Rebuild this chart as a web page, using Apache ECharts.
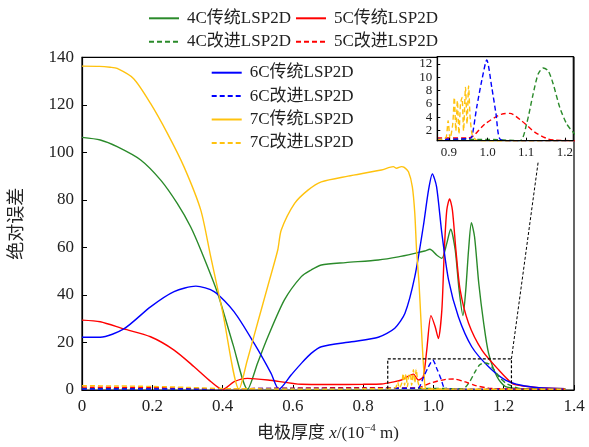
<!DOCTYPE html>
<html>
<head>
<meta charset="utf-8">
<script src="https://cdn.jsdelivr.net/npm/echarts@6/dist/echarts.min.js"></script>
<style>
  html, body { margin: 0; padding: 0; background: #fff; }
  #chart { width: 589px; height: 447px; }
</style>
</head>
<body>
<div id="chart"></div>
<script>
// 传统 LSP2D
const c4x = [0, 0.052, 0.1, 0.167, 0.224, 0.271, 0.309, 0.338, 0.386, 0.43, 0.471, 0.5, 0.529, 0.576, 0.624, 0.652, 0.681, 0.75, 0.843, 0.9, 0.947, 0.975, 0.99, 1.009, 1.024, 1.038, 1.049, 1.062, 1.073, 1.084, 1.092, 1.1, 1.108, 1.117, 1.129, 1.143, 1.157, 1.181, 1.205, 1.25, 1.3, 1.375]
const c4y = [106.3, 105.2, 102.4, 96.8, 88.3, 78.5, 68.7, 58.9, 40.7, 19, 0.3, 11.5, 22.4, 37.9, 47.7, 50.5, 52.6, 53.6, 54.7, 56, 57.5, 58.5, 59.2, 56.8, 55.4, 61.7, 67.7, 58.9, 42.1, 31.3, 42.1, 58.9, 70.4, 64.5, 44.9, 28.1, 15.4, 5.6, 1.4, 0.6, 0.4, 0.3]

const c5x = [0, 0.052, 0.119, 0.195, 0.262, 0.319, 0.367, 0.4, 0.433, 0.471, 0.529, 0.624, 0.7, 0.8, 0.852, 0.89, 0.909, 0.925, 0.943, 0.957, 0.971, 0.981, 0.993, 1.005, 1.014, 1.024, 1.031, 1.038, 1.046, 1.054, 1.064, 1.076, 1.1, 1.138, 1.186, 1.224, 1.25, 1.3, 1.375]
const c5y = [29.4, 28.7, 25.7, 22.4, 16.8, 9.8, 3.5, 0.2, 3.5, 4.9, 4.2, 2.4, 2.3, 2.4, 2.5, 3.5, 4.2, 5.5, 6.7, 4.2, 5.6, 16.8, 31.3, 26.6, 21.7, 33.7, 58.9, 75.7, 80.4, 75.7, 58.9, 42.1, 28.1, 16.8, 8.4, 2.8, 1.8, 1.0, 0.5]

const c6x = [0, 0.052, 0.119, 0.195, 0.262, 0.324, 0.376, 0.433, 0.49, 0.538, 0.56, 0.595, 0.624, 0.652, 0.681, 0.767, 0.843, 0.89, 0.919, 0.947, 0.971, 0.986, 0.997, 1.009, 1.024, 1.043, 1.071, 1.109, 1.157, 1.205, 1.25, 1.3, 1.375]
const c6y = [22.2, 22.2, 25.7, 35, 41.4, 43.7, 41.4, 32.9, 19.6, 7, 0.3, 6.3, 11.2, 15.4, 18.2, 20.3, 22.2, 26, 32.3, 47.7, 68.7, 84.1, 90.9, 85.5, 65.9, 46.3, 30.8, 18.2, 9.8, 4.2, 2.0, 1.0, 0.5]

const c7x = [0, 0.05, 0.08, 0.1, 0.147, 0.195, 0.243, 0.29, 0.338, 0.365, 0.4, 0.447, 0.47, 0.5, 0.53, 0.557, 0.567, 0.605, 0.643, 0.681, 0.757, 0.852, 0.886, 0.895, 0.909, 0.917, 0.929, 0.94, 0.947, 0.952, 0.959, 0.964, 0.969, 0.974, 0.978, 1.0, 1.1, 1.2, 1.375]
const c7y = [136.3, 136.2, 135.8, 135.3, 131, 120.6, 108, 94, 75.7, 57, 33, 0.3, 12.3, 28.4, 44.4, 58.9, 67.3, 78.5, 84.1, 87.6, 90, 92.6, 94, 93.3, 94, 93.7, 91.8, 85.5, 74.3, 58.9, 44.9, 30.8, 16.8, 5.6, 0.7, 0.4, 0.3, 0.3, 0.3]

// 改进 LSP2D
const i4x = [0, 0.4, 0.8, 0.9, 1.0, 1.084, 1.101, 1.118, 1.131, 1.144, 1.157, 1.17, 1.187, 1.205, 1.222, 1.24, 1.27, 1.375]
const i4y = [0.6, 0.4, 0.5, 0.7, 0.7, 0.5, 3, 7.5, 10.5, 11.4, 11, 9, 5.5, 3, 1.75, 0.8, 0.4, 0.3]

const i5x = [0, 0.2, 0.4, 0.6, 0.8, 0.9, 0.95, 0.963, 0.993, 1.037, 1.058, 1.088, 1.123, 1.157, 1.174, 1.25, 1.375]
const i5y = [1.2, 1.0, 0.5, 0.8, 1.0, 0.9, 0.9, 1.2, 3.0, 4.5, 4.6, 3.5, 1.75, 0.75, 0.6, 0.4, 0.3]

const i6x = [0, 0.3, 0.6, 0.85, 0.95, 0.959, 0.972, 0.985, 0.998, 1.011, 1.022, 1.032, 1.06, 1.2, 1.375]
const i6y = [0.4, 0.4, 0.7, 0.7, 0.8, 1, 5.5, 9.5, 12.6, 8.5, 4.5, 0.75, 0.4, 0.3, 0.3]

const i7x = [0, 0.1, 0.2, 0.3, 0.4, 0.5, 0.6, 0.7, 0.8, 0.87, 0.885, 0.893, 0.898, 0.903, 0.91, 0.914, 0.918, 0.922, 0.926, 0.93, 0.934, 0.938, 0.943, 0.947, 0.951, 0.955, 0.96, 0.967, 0.975, 1.05, 1.2, 1.375]
const i7y = [1.8, 1.7, 1.5, 1.1, 0.6, 0.5, 0.4, 0.4, 0.5, 0.6, 0.8, 1.0, 3.5, 0.8, 3, 7, 2, 6.5, 1.5, 6, 7, 2, 8.5, 3, 8.7, 4, 1.5, 0.8, 0.5, 0.4, 0.3, 0.3]

const xTicks = [0, 0.2, 0.4, 0.6, 0.8, 1.0, 1.2, 1.4]
const yTicks = [0, 20, 40, 60, 80, 100, 120, 140]
const insetXTicks = [0.9, 1.0, 1.1, 1.2]
const insetYTicks = [2, 4, 6, 8, 10, 12]
const insetX = [0.87, 1.222]
const insetY = [0.5, 13.1]
const connectorEnd = [1.298, 95.9]

const GREEN = '#2a8a2a', RED = '#ff0000', BLUE = '#0000ff', GOLD = '#ffc20e'
const FONT = '"Liberation Serif", "Noto Sans CJK SC", serif'

const zip = (xs, ys) => xs.map((x, i) => [x, ys[i]])

const lines = [
  { name: '4C传统LSP2D', xs: c4x, ys: c4y, color: GREEN, dash: false },
  { name: '5C传统LSP2D', xs: c5x, ys: c5y, color: RED, dash: false },
  { name: '6C传统LSP2D', xs: c6x, ys: c6y, color: BLUE, dash: false },
  { name: '7C传统LSP2D', xs: c7x, ys: c7y, color: GOLD, dash: false },
  { name: '4C改进LSP2D', xs: i4x, ys: i4y, color: GREEN, dash: true },
  { name: '5C改进LSP2D', xs: i5x, ys: i5y, color: RED, dash: true },
  { name: '6C改进LSP2D', xs: i6x, ys: i6y, color: BLUE, dash: true },
  { name: '7C改进LSP2D', xs: i7x, ys: i7y, color: GOLD, dash: true }
]

const series = []
lines.forEach(l => {
  series.push({
    name: l.name, type: 'line', xAxisIndex: 0, yAxisIndex: 0,
    data: zip(l.xs, l.ys), showSymbol: false, symbol: 'none',
    smooth: 0.25, color: l.color, animation: false,
    lineStyle: { width: 1.4, type: l.dash ? [5, 3] : 'solid' }
  })
})
// 局部放大图
lines.filter(l => l.dash).forEach(l => {
  series.push({
    name: l.name, type: 'line', xAxisIndex: 1, yAxisIndex: 1,
    data: zip(l.xs, l.ys), showSymbol: false, symbol: 'none',
    smooth: 0.25, color: l.color, animation: false, clip: true, z: 12,
    lineStyle: { width: 1.4, type: [5, 3] }
  })
})
// 放大区域框和连线
series.push({
  type: 'line', xAxisIndex: 0, yAxisIndex: 0, silent: true, symbol: 'none', animation: false,
  data: [[insetX[0], insetY[0]], [insetX[0], insetY[1]], [insetX[1], insetY[1]], [insetX[1], insetY[0]]],
  lineStyle: { color: '#000', width: 1.2, type: [3, 2] }, z: 5
})
series.push({
  type: 'line', xAxisIndex: 0, yAxisIndex: 0, silent: true, symbol: 'none', animation: false,
  data: [[insetX[1], insetY[1]], connectorEnd],
  lineStyle: { color: '#000', width: 1, type: [3, 2] }, z: 5
})

const legendBase = {
  orient: 'vertical', padding: 0, itemWidth: 30, itemHeight: 14, itemGap: 6.4,
  selectedMode: false,
  itemStyle: { opacity: 0, borderWidth: 0 },
  textStyle: { fontFamily: FONT, fontSize: 17, color: '#222', lineHeight: 17, padding: [0, 0, 0, 3] }
}

const chart = echarts.init(document.getElementById('chart'))
chart.setOption({
  backgroundColor: '#fff',
  textStyle: { fontFamily: FONT },
  legend: [
    Object.assign({}, legendBase, { left: 148, top: 9.8, data: ['4C传统LSP2D', '4C改进LSP2D'] }),
    Object.assign({}, legendBase, { left: 295, top: 9.8, data: ['5C传统LSP2D', '5C改进LSP2D'] }),
    Object.assign({}, legendBase, { left: 210.7, top: 64.2, data: ['6C传统LSP2D', '6C改进LSP2D', '7C传统LSP2D', '7C改进LSP2D'] })
  ],
  grid: [
    { left: 81.7, right: 15, top: 57.3, bottom: 57, show: true, borderColor: '#000', borderWidth: 1.2, backgroundColor: 'transparent' },
    { left: 437.3, top: 56.7, width: 136, height: 84, show: true, borderColor: '#000', borderWidth: 1.2, backgroundColor: '#fff', z: 10 }
  ],
  xAxis: [
    {
      type: 'value', gridIndex: 0, min: 0, max: 1.4, interval: 0.2,
      name: '电极厚度 {i|x}/(10{sup|−4} m)', nameLocation: 'middle', nameGap: 33,
      nameTextStyle: {
        fontFamily: FONT, fontSize: 17, color: '#222',
        rich: {
          i: { fontFamily: FONT, fontStyle: 'italic', fontSize: 17, color: '#222' },
          sup: { fontFamily: FONT, fontSize: 11, color: '#222', padding: [0, 0, 10, 0] }
        }
      },
      axisLine: { show: true, onZero: false, lineStyle: { color: '#000', width: 1.2 } },
      axisTick: { show: true, inside: true, length: 5, lineStyle: { color: '#000' }, customValues: xTicks },
      axisLabel: { fontSize: 17, color: '#222', margin: 8, fontFamily: FONT, customValues: xTicks,
        formatter: v => v === 0 ? '0' : v.toFixed(1) },
      splitLine: { show: false }
    },
    {
      type: 'value', gridIndex: 1, min: insetX[0], max: insetX[1],
      axisLine: { show: true, onZero: false, lineStyle: { color: '#000', width: 1.2 } },
      axisTick: { show: true, inside: true, length: 3, lineStyle: { color: '#000' }, customValues: insetXTicks },
      axisLabel: { fontSize: 13, color: '#222', margin: 5, fontFamily: FONT, customValues: insetXTicks,
        formatter: v => v.toFixed(1) },
      splitLine: { show: false }, z: 13
    }
  ],
  yAxis: [
    {
      type: 'value', gridIndex: 0, min: 0, max: 140, interval: 20,
      name: '绝对误差', nameLocation: 'middle', nameGap: 56, nameRotate: 90,
      nameTextStyle: { fontFamily: FONT, fontSize: 18, color: '#222' },
      axisLine: { show: true, onZero: false, lineStyle: { color: '#000', width: 1.2 } },
      axisTick: { show: true, inside: true, length: 5, lineStyle: { color: '#000' }, customValues: yTicks },
      axisLabel: { fontSize: 17, color: '#222', margin: 8, fontFamily: FONT, customValues: yTicks },
      splitLine: { show: false }
    },
    {
      type: 'value', gridIndex: 1, min: insetY[0], max: insetY[1],
      axisLine: { show: true, onZero: false, lineStyle: { color: '#000', width: 1.2 } },
      axisTick: { show: true, inside: true, length: 3, lineStyle: { color: '#000' }, customValues: insetYTicks },
      axisLabel: { fontSize: 13, color: '#222', margin: 5, fontFamily: FONT, customValues: insetYTicks },
      splitLine: { show: false }, z: 13
    }
  ],
  series: series
})
</script>
</body>
</html>
